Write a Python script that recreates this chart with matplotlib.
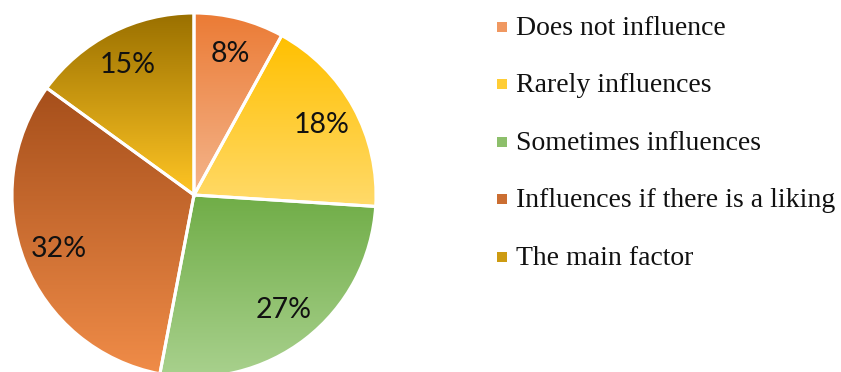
import numpy as np
import matplotlib.pyplot as plt
from matplotlib.colors import to_rgb
from matplotlib.patches import Rectangle

labels = ['Does not influence', 'Rarely influences', 'Sometimes influences',
          'Influences if there is a liking', 'The main factor']
shares = [8, 18, 27, 32, 15]

# top / bottom colour of the vertical gradient in each slice
top_colors = ['#EB7B35', '#FFC000', '#70AD47', '#A64F1B', '#9A7000']
bottom_colors = ['#F4B58C', '#FFDA6A', '#A9D18E', '#F08C48', '#FFC524']

W, H = 841, 372
fig = plt.figure(figsize=(W / 100, H / 100), dpi=100)
ax = fig.add_axes([0, 0, 1, 1])

cx, cy, R = 194, 177, 182
wedges, texts, autotexts = ax.pie(
    shares, startangle=90, counterclock=False, center=(cx, cy), radius=R,
    autopct='%1.0f%%', pctdistance=0.8,
    wedgeprops=dict(facecolor='none', edgecolor='white', linewidth=2.2, zorder=3),
    textprops=dict(fontsize=20.5, family='Lato', color='#111111'))

for autotext in autotexts:
    autotext.set_zorder(4)

for w, c_top, c_bot in zip(wedges, top_colors, bottom_colors):
    verts = w.get_path().vertices
    x0, x1 = verts[:, 0].min(), verts[:, 0].max()
    y0, y1 = verts[:, 1].min(), verts[:, 1].max()
    t = np.linspace(0, 1, 256)[:, None]
    grad = (1 - t) * np.array(to_rgb(c_top)) + t * np.array(to_rgb(c_bot))
    im = ax.imshow(grad[:, None, :], extent=(x0, x1, y0, y1), aspect='auto',
                   interpolation='bilinear', zorder=2)
    im.set_clip_path(w)

# legend drawn by hand on the right
for i, (lab, c_top, c_bot) in enumerate(zip(labels, top_colors, bottom_colors)):
    yc = H - 27 - i * 57.4
    mid = 0.5 * np.array(to_rgb(c_top)) + 0.5 * np.array(to_rgb(c_bot))
    ax.add_patch(Rectangle((497, yc - 5), 10, 10, facecolor=mid, edgecolor='none'))
    ax.text(516, yc - 8, lab, fontsize=20, family='Liberation Serif',
            color='#111111', va='baseline', ha='left')

ax.set_xlim(0, W)
ax.set_ylim(0, H)
ax.set_aspect('equal')
ax.axis('off')

fig.savefig('out.png', dpi=100)
